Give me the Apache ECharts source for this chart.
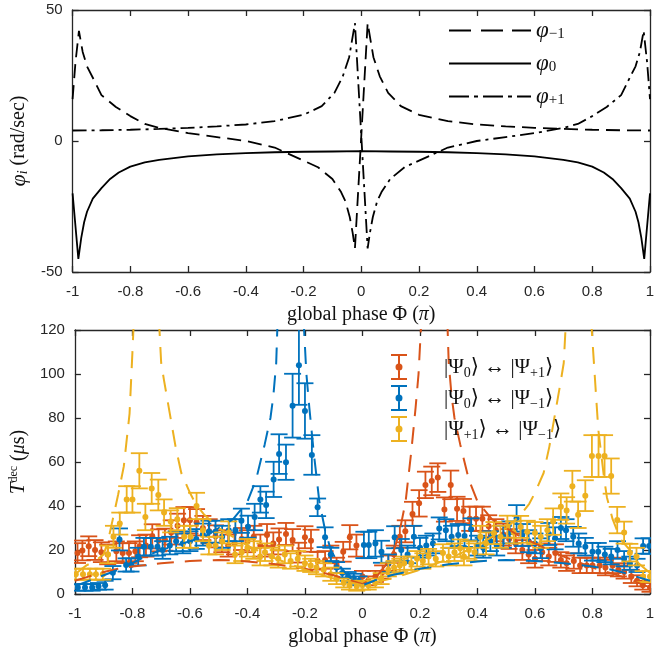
<!DOCTYPE html>
<html><head><meta charset="utf-8">
<script src="https://cdn.jsdelivr.net/npm/echarts@6/dist/echarts.min.js"></script>
<style>html,body{margin:0;padding:0;background:#fff}#c{width:664px;height:651px}</style>
</head><body><div id="c"></div>
<script>
// ---------- top panel: phase rates (rad/sec) ----------
const phiM1X = [-1,-0.99,-0.978,-0.965,-0.95,-0.92,-0.9,-0.85,-0.8,-0.75,-0.7,-0.6,-0.5,-0.4,-0.3,-0.25,-0.2,-0.15,-0.1,-0.07,-0.055,-0.04,-0.03,-0.022,0.022,0.042,0.064,0.093,0.137,0.2,0.3,0.4,0.5,0.6,0.7,0.8,0.9,1];
const phiM1Y = [16,30,42,34,28.5,22,17.5,13,9.5,6.5,5,3,1.5,0,-2.5,-5,-7.5,-10,-14.5,-19.5,-23,-29,-35,-41,45,32,24.7,18.4,13.3,10,7.6,6.3,5.6,5,4.6,4.3,4.1,4];
const phi0X = [-1,-0.98,-0.97,-0.96,-0.95,-0.93,-0.9,-0.87,-0.84,-0.8,-0.75,-0.7,-0.6,-0.5,-0.4,-0.3,-0.2,-0.1,0,0.1,0.2,0.3,0.4,0.5,0.6,0.7,0.75,0.8,0.84,0.87,0.9,0.93,0.95,0.96,0.97,0.98,1];
const phi0Y = [-20,-45,-37,-31,-27,-22,-18,-14.5,-12,-9.8,-8.2,-7.2,-5.9,-5.1,-4.6,-4.3,-4.1,-4,-3.9,-4,-4.1,-4.3,-4.6,-5.1,-5.9,-7.2,-8.2,-9.8,-12,-14.5,-18,-22,-27,-31,-37,-45,-20];
const phiP1X = [-1,-0.9,-0.8,-0.7,-0.6,-0.5,-0.4,-0.3,-0.2,-0.137,-0.093,-0.064,-0.042,-0.022,0.022,0.03,0.04,0.055,0.07,0.1,0.15,0.2,0.25,0.3,0.4,0.5,0.6,0.7,0.75,0.8,0.85,0.9,0.92,0.95,0.965,0.978,0.99,1];
const phiP1Y = [4,4.1,4.3,4.6,5,5.6,6.3,7.6,10,13.3,18.4,24.7,32,45,-41,-35,-29,-23,-19.5,-14.5,-10,-7.5,-5,-2.5,0,1.5,3,5,6.5,9.5,13,17.5,22,28.5,34,42,30,16];

// ---------- bottom panel: measured decoherence times (µs) ----------
// |Psi0> <-> |Psi+1>  (orange)
const orX = [-0.991,-0.974,-0.952,-0.93,-0.908,-0.886,-0.856,-0.834,-0.812,-0.79,-0.775,-0.753,-0.731,-0.709,-0.687,-0.665,-0.643,-0.621,-0.6,-0.577,-0.555,-0.533,-0.511,-0.489,-0.467,-0.445,-0.42,-0.4,-0.378,-0.355,-0.332,-0.31,-0.29,-0.266,-0.243,-0.222,-0.2,-0.179,-0.156,-0.13,-0.11,-0.09,-0.067,-0.044,-0.021,0.0,0.02,0.045,0.07,0.09,0.11,0.13,0.149,0.174,0.197,0.219,0.241,0.262,0.285,0.307,0.329,0.351,0.373,0.395,0.417,0.439,0.464,0.49,0.51,0.533,0.556,0.578,0.6,0.625,0.648,0.671,0.69,0.71,0.735,0.757,0.78,0.8,0.825,0.845,0.87,0.89,0.91,0.935,0.955,0.975,1.0];
const orY = [18.6,19.8,21.7,20,19,18,19.4,18.6,18.6,19.4,21.7,22,26.2,24.4,24.7,28,31,33.5,33.5,32.6,30,28.5,26.2,24,22,23,25,24,26,22,26.8,23,24.8,27.3,24.5,18.8,25.8,24.2,15.1,15.5,18,13,19.2,25.8,22,8,6,8,10,14,18,26,28.5,36.4,41.2,49.6,51.4,52.9,38.4,49.6,38.7,37.7,34.2,34.2,34.2,30.8,29,27,25,23,20,18,16,19,17,18.6,15.5,14,15,13,13,13,13,12,13,11,10,8,6,4,3];
const orE = [4.5,4.5,4.5,4.5,4.5,4.5,4.5,4.5,4.5,4.5,5,5,5.5,5,5,5.5,5.5,6,6,6,5.5,5.5,5,5,5,5,5,5,5,5,5,5,5,5,5,4.5,5,5,4,4,4,3.5,4.5,5.5,5,2.5,2,2.5,3,3.5,4,5,5,5.5,6,6,6.5,6.5,5.5,6.5,5.5,5.5,5.5,5.5,5.5,5,5,5,4.5,4.5,4.5,4,4,4,4,4,3.5,3.5,3.5,3.5,3.5,3.5,3.5,3.5,3.5,3,3,3,2.5,2,2];
// |Psi0> <-> |Psi-1>  (blue)
const blX = [-0.99,-0.965,-0.94,-0.918,-0.895,-0.868,-0.845,-0.822,-0.805,-0.78,-0.76,-0.736,-0.713,-0.695,-0.67,-0.648,-0.625,-0.6,-0.578,-0.555,-0.534,-0.511,-0.488,-0.465,-0.442,-0.421,-0.398,-0.375,-0.355,-0.335,-0.309,-0.29,-0.266,-0.243,-0.221,-0.2,-0.176,-0.156,-0.13,-0.11,-0.09,-0.07,-0.05,-0.03,-0.012,0.005,0.022,0.045,0.066,0.09,0.112,0.135,0.157,0.179,0.2,0.222,0.245,0.267,0.29,0.31,0.333,0.355,0.378,0.4,0.42,0.445,0.467,0.49,0.512,0.536,0.556,0.578,0.6,0.62,0.648,0.67,0.69,0.708,0.733,0.752,0.775,0.8,0.82,0.843,0.865,0.887,0.91,0.93,0.955,0.976,0.997];
const blY = [3,3,3,3.5,4,9.7,24.8,13.2,13.2,17,21.5,21.5,21.5,20,22,24,23,24,25,27,28.3,28.3,26,29,29,33.3,30.6,35,43,40.5,52.1,63.6,59.9,85.6,104,83.2,63.2,39.4,25.8,18,12,9.5,8,7.2,6,22.3,22.3,23,19.2,14,25.8,20,18,26,21,22,23,29.8,29,26,26.8,26.4,29.4,22,21,24,22,26,28,34.4,26.8,24,23,20.8,27.3,25.3,30,29,26,23,21.5,19.2,19.2,18,17,20,16,14,13,21.8,21.8];
const blE = [1.5,1.5,1.5,1.5,2,3,5,3,3,4,4,4,4,4,4,4.5,4.5,4.5,4.5,5,5,5,5,5,5,5.5,5,6,6,6,8,9,8,14.5,18,12.6,9,4,4.5,3,2.5,2,2,2,2,6,6,6,5,4,5,5,4,5,4.5,4.5,4.5,5,5,5,5,5,5,4.5,4.5,4.5,4.5,5,5,6,5,5,4.5,4.5,5,5,5,5,4.5,4.5,4,4,4,3.5,3.5,4,3.5,3,3,3.5,3.5];
// |Psi+1> <-> |Psi-1>  (yellow)
const yeX = [-0.997,-0.972,-0.948,-0.927,-0.903,-0.885,-0.866,-0.844,-0.82,-0.80,-0.776,-0.755,-0.733,-0.71,-0.69,-0.667,-0.644,-0.62,-0.598,-0.577,-0.555,-0.534,-0.511,-0.488,-0.465,-0.443,-0.42,-0.40,-0.378,-0.356,-0.339,-0.315,-0.293,-0.27,-0.25,-0.225,-0.2,-0.18,-0.16,-0.135,-0.11,-0.09,-0.065,-0.045,-0.02,0.0,0.02,0.045,0.065,0.09,0.11,0.13,0.145,0.17,0.19,0.21,0.23,0.255,0.28,0.30,0.32,0.34,0.353,0.37,0.39,0.41,0.43,0.457,0.48,0.504,0.526,0.55,0.573,0.60,0.62,0.643,0.663,0.69,0.71,0.73,0.75,0.775,0.798,0.821,0.842,0.865,0.886,0.91,0.93,0.953,0.976,1.0];
const yeY = [9,9,9,9,9,18,26,32,43,43,56,35,48,45,37,33,34,26,26,40,29,22,22,24,28,18,19,21,20,17,19,17,16,18,15,16,14,13,12,11,9,7,5,4,3.5,4,4,5,7,11,12,13,14,14,16,15,17,16,18.6,17,19,20.8,17,20,19,26,23,27.7,26,30.6,28,30.5,28.3,27.7,26,29,32.9,39.7,38,49,36,44.7,62.7,62.7,62.7,53.6,33.6,27.9,18.8,17,7.9,7.9];
const yeE = [2.5,2.5,2.5,2.5,2.5,4,5,5,6,6,8,6,7,7,6,5,5,5,5,6,5,4,4,4,5,4,4,4,4,4,4,4,4,4,3.5,3.5,3.5,3,3,3,3,2.5,2,2,2,2,2,2,2.5,3,3,3,3,3,3.5,3.5,3.5,3.5,4,4,4,4,4,4,4,5,5,5,5,5,5,5,5,5,5,5,6,6,6,7,6,7,9.5,9.5,9.5,8,6,5,4,4,2.5,2.5];

// ---------- bottom panel: model curves (dashed) ----------
const orThX = [-1,-0.95,-0.9,-0.85,-0.8,-0.7,-0.6,-0.5,-0.45,-0.4,-0.3,-0.2,-0.1,-0.05,0,0.05,0.08,0.11,0.13,0.15,0.17,0.185,0.195,0.205,0.25,0.295,0.3,0.31,0.32,0.34,0.37,0.4,0.45,0.5,0.55,0.6,0.7,0.8,0.85,0.9,0.95,1];
const orThY = [6,8,10,11.5,12.5,14,15,15.5,15.3,14.8,13.5,11.5,8.5,6.5,4.5,8,13,20,29,42,65,85,100,125,null,125,105,90,80,68,52,42,34,30,26,23,17,12,10,8,5.5,3];
const blThX = [-1,-0.95,-0.9,-0.85,-0.8,-0.75,-0.7,-0.6,-0.55,-0.5,-0.45,-0.4,-0.37,-0.34,-0.32,-0.31,-0.3,-0.295,-0.25,-0.205,-0.195,-0.185,-0.17,-0.15,-0.13,-0.11,-0.08,-0.05,0,0.05,0.1,0.2,0.3,0.4,0.45,0.5,0.6,0.7,0.8,0.85,0.9,0.95,1];
const blThY = [3.5,6,8.5,11,14,17.5,20,24,26,30,34,42,52,68,80,90,105,125,null,125,100,85,65,42,29,20,13,8,4,6.5,8.5,11.5,13.5,14.8,15.3,15.5,15,14,12.5,11.5,10,8,6];
const yeThX = [-1,-0.96,-0.93,-0.9,-0.885,-0.865,-0.85,-0.83,-0.81,-0.8,-0.795,-0.75,-0.708,-0.7,-0.69,-0.67,-0.65,-0.63,-0.6,-0.58,-0.55,-0.5,-0.45,-0.4,-0.3,-0.2,-0.1,0,0.1,0.2,0.3,0.4,0.45,0.5,0.55,0.58,0.6,0.63,0.65,0.67,0.69,0.7,0.708,0.75,0.795,0.8,0.81,0.82,0.84,0.85,0.87,0.885,0.9,0.93,0.96,1];
const yeThY = [9,13,15,18,24,36,45,58,82,110,125,null,125,105,97,82,67,55,46,41,36,30,26,22,16,11,7,4,7,11,16,22,26,30,36,41,46,55,67,82,97,105,125,null,125,115,95,75,53,44,34,29,24.5,20,14,9.5];

const C_OR = '#D95319', C_BL = '#0072BD', C_YE = '#EDB120';
const AX = '#262626';
const TICKFONT = "'Liberation Sans Narrow','Liberation Sans',sans-serif";
const SERIF = "'Liberation Serif','DejaVu Serif',serif";

const pairs = (X, Y) => X.map((x, i) => [x, Y[i] === null ? '-' : Y[i]]);
const triples = (X, Y, E) => X.map((x, i) => [x, Y[i], E[i]]);

function xAx(grid, pos, showLabel, name) {
  return {
    type: 'value', gridIndex: grid, position: pos, min: -1, max: 1, interval: 0.2,
    axisLine: {show: true, onZero: false, lineStyle: {color: AX, width: 1.3}},
    axisTick: {show: true, inside: true, length: 6, lineStyle: {color: AX, width: 1.3}},
    splitLine: {show: false},
    axisLabel: {show: showLabel, margin: 12, color: AX, fontFamily: TICKFONT, fontSize: 15,
      formatter: v => String(+(+v).toFixed(1))},
    name: name || '', nameLocation: 'middle', nameGap: 33,
    nameTextStyle: {color: '#111', fontFamily: SERIF, fontSize: 20,
      rich: {i: {fontStyle: 'italic', fontFamily: SERIF, fontSize: 20, color: '#111'}}}
  };
}
function yAx(grid, pos, min, max, interval, showLabel, name, nameGap, rich) {
  return {
    type: 'value', gridIndex: grid, position: pos, min, max, interval,
    axisLine: {show: true, onZero: false, lineStyle: {color: AX, width: 1.3}},
    axisTick: {show: true, inside: true, length: 6, lineStyle: {color: AX, width: 1.3}},
    splitLine: {show: false},
    axisLabel: {show: showLabel, margin: 10, color: AX, fontFamily: TICKFONT, fontSize: 15},
    name: name || '', nameLocation: 'middle', nameGap: nameGap || 40, nameRotate: 90,
    nameTextStyle: {color: '#111', fontFamily: SERIF, fontSize: 20, rich: rich || {}}
  };
}

const XNAME = 'global phase Φ ({i|π})';

function errRender(params, api) {
  const x = api.value(0), y = api.value(1), e = api.value(2);
  const hi = Math.min(y + e, 120), lo = Math.max(y - e, 0);
  const c = api.coord([x, y]), t = api.coord([x, hi]), b = api.coord([x, lo]);
  const color = api.visual('color');
  const w = 8.5;
  const ls = {stroke: color, lineWidth: 1.8};
  const ch = [{type: 'line', shape: {x1: c[0], y1: t[1], x2: c[0], y2: b[1]}, style: ls}];
  if (y + e <= 120) ch.push({type: 'line', shape: {x1: c[0] - w, y1: t[1], x2: c[0] + w, y2: t[1]}, style: ls});
  if (y - e >= 0) ch.push({type: 'line', shape: {x1: c[0] - w, y1: b[1], x2: c[0] + w, y2: b[1]}, style: ls});
  ch.push({type: 'circle', shape: {cx: c[0], cy: c[1], r: 3}, style: {fill: color}});
  return {type: 'group', children: ch};
}

const ERR_ICON = 'path://M0,0H16V2H0Z M7,0H9V26H7Z M0,24H16V26H0Z M4.5,13A3.5,3.5 0 1 1 11.5,13A3.5,3.5 0 1 1 4.5,13Z';

const topNames = ['m1', 'z0', 'p1'];
const topIcons = {
  m1: 'path://M0,0H22V2H0Z M32,0H54V2H32Z M63,0H82V2H63Z',
  z0: 'path://M0,0H82V2H0Z',
  p1: 'path://M0,0H20V2H0Z M25,0H29V2H25Z M34,0H54V2H34Z M59,0H63V2H59Z M68,0H82V2H68Z'
};
const topLabels = {m1: '{p|φ}{s|−1}', z0: '{p|φ}{s|0}', p1: '{p|φ}{s|+1}'};
const botNames = ['a', 'b', 'c'];
const botLabels = {
  a: '{t||Ψ}{s|0}{t|⟩ ↔ |Ψ}{s|+1}{t|⟩}',
  b: '{t||Ψ}{s|0}{t|⟩ ↔ |Ψ}{s|−1}{t|⟩}',
  c: '{t||Ψ}{s|+1}{t|⟩ ↔ |Ψ}{s|−1}{t|⟩}'
};

const option = {
  animation: false,
  backgroundColor: '#fff',
  grid: [
    {left: 72, right: 14, top: 10, height: 262},
    {left: 72, right: 14, top: 330, height: 264}
  ],
  xAxis: [
    xAx(0, 'bottom', true, XNAME),
    xAx(0, 'top', false),
    xAx(1, 'bottom', true, XNAME),
    xAx(1, 'top', false)
  ],
  yAxis: [
    yAx(0, 'left', -50, 50, 50, true, '{p|φ}{s|i} (rad/sec)', 41,
      {p: {fontStyle: 'italic', fontFamily: SERIF, fontSize: 22, color: '#111'},
       s: {fontStyle: 'italic', fontFamily: SERIF, fontSize: 14, color: '#111', verticalAlign: 'bottom'}}),
    yAx(0, 'right', -50, 50, 50, false),
    yAx(1, 'left', 0, 120, 20, true, '{T|T}{s|dec} ({m|μ}s)', 38,
      {T: {fontStyle: 'italic', fontFamily: SERIF, fontSize: 21, color: '#111'},
       s: {fontFamily: SERIF, fontSize: 12, color: '#111', verticalAlign: 'top'},
       m: {fontStyle: 'italic', fontFamily: SERIF, fontSize: 20, color: '#111'}}),
    yAx(1, 'right', 0, 120, 20, false)
  ],
  legend: [
    {
      data: topNames.map(n => ({name: n, icon: topIcons[n]})),
      orient: 'vertical', left: 444, top: 14,
      itemWidth: 82, itemHeight: 2, itemGap: 10,
      formatter: n => topLabels[n],
      textStyle: {fontFamily: SERIF, fontSize: 20, color: '#111', rich: {
        p: {fontStyle: 'italic', fontFamily: SERIF, fontSize: 23, color: '#111', lineHeight: 22},
        s: {fontFamily: SERIF, fontSize: 15, color: '#111', verticalAlign: 'bottom', lineHeight: 22}
      }}
    },
    {
      data: botNames.map(n => ({name: n, icon: ERR_ICON})), orient: 'vertical', left: 386, top: 349,
      itemWidth: 16, itemHeight: 26, itemGap: 5,
      formatter: n => botLabels[n],
      textStyle: {fontFamily: SERIF, fontSize: 21, color: '#111', padding: [0, 0, 0, 32], rich: {
        t: {fontFamily: SERIF, fontSize: 21, color: '#111', lineHeight: 26},
        s: {fontFamily: SERIF, fontSize: 14, color: '#111', verticalAlign: 'bottom', lineHeight: 26}
      }}
    }
  ],
  series: [
    {name: 'm1', type: 'line', xAxisIndex: 0, yAxisIndex: 0, data: pairs(phiM1X, phiM1Y), symbol: 'none',
      lineStyle: {color: '#000', width: 1.8, type: [14, 7]}, itemStyle: {color: '#000'}},
    {name: 'z0', type: 'line', xAxisIndex: 0, yAxisIndex: 0, data: pairs(phi0X, phi0Y), symbol: 'none',
      lineStyle: {color: '#000', width: 1.8, type: 'solid'}, itemStyle: {color: '#000'}},
    {name: 'p1', type: 'line', xAxisIndex: 0, yAxisIndex: 0, data: pairs(phiP1X, phiP1Y), symbol: 'none',
      lineStyle: {color: '#000', width: 1.8, type: [14, 5, 3, 5]}, itemStyle: {color: '#000'}},

    {name: 'thA', type: 'line', xAxisIndex: 2, yAxisIndex: 2, data: pairs(orThX, orThY), symbol: 'none', clip: true,
      lineStyle: {color: C_OR, width: 2, type: [17, 11]}},
    {name: 'thB', type: 'line', xAxisIndex: 2, yAxisIndex: 2, data: pairs(blThX, blThY), symbol: 'none', clip: true,
      lineStyle: {color: C_BL, width: 2, type: [17, 11]}},
    {name: 'thC', type: 'line', xAxisIndex: 2, yAxisIndex: 2, data: pairs(yeThX, yeThY), symbol: 'none', clip: true,
      lineStyle: {color: C_YE, width: 2, type: [17, 11]}},

    {name: 'a', type: 'custom', xAxisIndex: 2, yAxisIndex: 2, data: triples(orX, orY, orE), renderItem: errRender,
      itemStyle: {color: C_OR}, encode: {x: 0, y: 1}, clip: true},
    {name: 'b', type: 'custom', xAxisIndex: 2, yAxisIndex: 2, data: triples(blX, blY, blE), renderItem: errRender,
      itemStyle: {color: C_BL}, encode: {x: 0, y: 1}, clip: true},
    {name: 'c', type: 'custom', xAxisIndex: 2, yAxisIndex: 2, data: triples(yeX, yeY, yeE), renderItem: errRender,
      itemStyle: {color: C_YE}, encode: {x: 0, y: 1}, clip: true}
  ]
};

const chart = echarts.init(document.getElementById('c'), null, {renderer: 'canvas'});
chart.setOption(option);
</script>
</body></html>
